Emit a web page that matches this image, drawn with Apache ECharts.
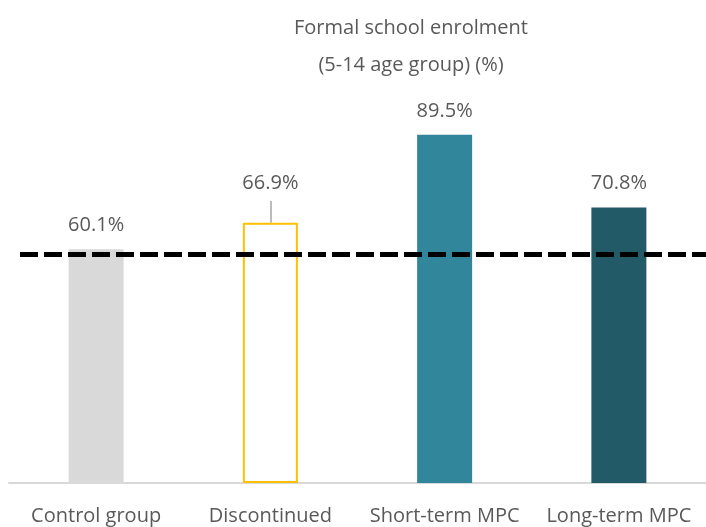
<!DOCTYPE html>
<html>
<head>
<meta charset="utf-8">
<script src="https://cdn.jsdelivr.net/npm/echarts@6/dist/echarts.min.js"></script>
<style>
  html, body { margin: 0; padding: 0; background: #ffffff; }
  #chart { width: 706px; height: 527px; }
</style>
</head>
<body>
<div id="chart"></div>
<script>
// Groups and their enrolment rates (%)
const categories = ['Control group', 'Discontinued', 'Short-term MPC', 'Long-term MPC'];
const enrolment = [60.1, 66.9, 89.5, 70.8];
// Dashed reference level (%)
const referenceLevel = [58.8];

const FONT = '"Open Sans", "Noto Sans", sans-serif';
const TEXT = '#595959';

const barStyles = [
  { color: '#d9d9d9' },
  { color: '#ffffff', borderColor: '#ffc000', borderWidth: 2 },
  { color: '#31869b' },
  { color: '#225a68' }
];

// The Discontinued label sits higher, joined to its bar by a short leader
const LIFTED = 1;
const seriesData = enrolment.map((v, i) => {
  const item = { value: v, itemStyle: barStyles[i] };
  if (i === LIFTED) item.label = { distance: 29 };
  return item;
});

const chart = echarts.init(document.getElementById('chart'), null, { renderer: 'canvas' });
chart.setOption({
  animation: false,
  backgroundColor: '#ffffff',
  title: {
    text: 'Formal school enrolment\n(5-14 age group) (%)',
    left: 406,
    top: 5,
    textAlign: 'center',
    textStyle: {
      fontFamily: FONT,
      fontSize: 20,
      fontWeight: 'normal',
      color: TEXT,
      lineHeight: 37
    }
  },
  grid: { left: 9, right: 0, top: 94, bottom: 44, containLabel: false },
  xAxis: {
    type: 'category',
    data: categories,
    axisLine: { show: true, lineStyle: { color: '#d9d9d9', width: 2 } },
    axisTick: { show: false },
    axisLabel: {
      margin: 23,
      interval: 0,
      fontFamily: FONT,
      fontSize: 20,
      color: TEXT
    }
  },
  yAxis: {
    type: 'value',
    min: 0,
    max: 100,
    show: false,
    splitLine: { show: false }
  },
  series: [{
    type: 'bar',
    data: seriesData,
    barWidth: 55,
    label: {
      show: true,
      position: 'top',
      distance: 14,
      formatter: p => p.value.toFixed(1) + '%',
      fontFamily: FONT,
      fontSize: 20,
      color: TEXT
    },
    markLine: {
      silent: true,
      symbol: 'none',
      label: { show: false },
      lineStyle: { color: '#000000', width: 5, type: [18, 6], cap: 'butt' },
      data: [
        [
          { x: '2.83%', yAxis: referenceLevel[0] },
          { x: '100%', yAxis: referenceLevel[0] }
        ],
        [
          { coord: [categories[LIFTED], enrolment[LIFTED]],
            lineStyle: { color: '#a6a6a6', width: 1.5, type: 'solid' } },
          { coord: [categories[LIFTED], enrolment[LIFTED] + 5.6] }
        ]
      ]
    }
  }]
});
</script>
</body>
</html>
